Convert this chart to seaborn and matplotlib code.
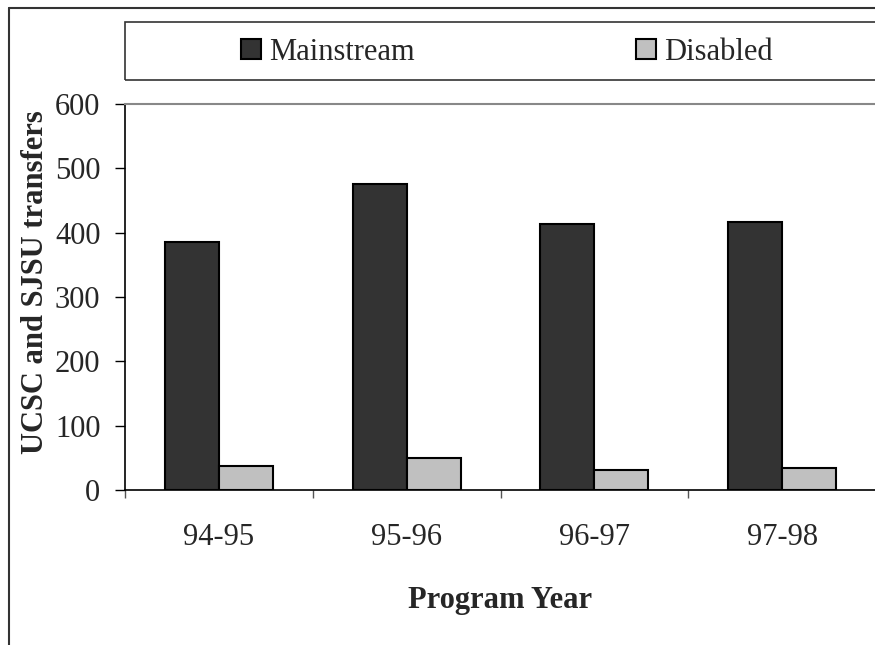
import matplotlib
matplotlib.use("Agg")
import matplotlib.pyplot as plt
import seaborn as sns
import pandas as pd
from matplotlib.patches import Rectangle
from matplotlib.lines import Line2D

years = ["94-95", "95-96", "96-97", "97-98"]
mainstream = [386, 476, 414, 417]
disabled = [37, 50, 31, 34]
series = ["Mainstream", "Disabled"]
colors = ["#333333", "#c0c0c0"]
yticks = [0, 100, 200, 300, 400, 500, 600]

df = pd.DataFrame({
    "year": years * 2,
    "group": [series[0]] * len(years) + [series[1]] * len(years),
    "value": mainstream + disabled,
})

sns.set_style("ticks")
plt.rcParams["font.family"] = ["Liberation Serif", "DejaVu Serif"]

W, H = 875, 645
fig = plt.figure(figsize=(W / 100, H / 100), dpi=100)
ax = fig.add_axes([125 / W, 155 / H, 751 / W, 386 / H])

sns.barplot(data=df, x="year", y="value", hue="group", hue_order=series,
            palette=dict(zip(series, colors)), width=0.575, saturation=1,
            edgecolor="black", linewidth=1.5, ax=ax)

ax.set_ylim(0, 600)
ax.set_xlim(-0.5, 3.5)
ax.set_yticks(yticks)
ax.set_yticklabels([str(v) for v in yticks])
ax.set_xticks([-0.5, 0.5, 1.5, 2.5, 3.5], minor=True)

ax.tick_params(axis="y", which="major", direction="out", length=7.2, width=1,
               color="black", labelsize=22, pad=10.5)
ax.tick_params(axis="x", which="major", length=0, labelsize=22, pad=24)
ax.tick_params(axis="x", which="minor", direction="out", length=6, width=1,
               color="#555555")

for s in ["left", "bottom"]:
    ax.spines[s].set_color("black")
    ax.spines[s].set_linewidth(1.2)
ax.spines["top"].set_visible(True)
ax.spines["top"].set_color("#888888")
ax.spines["top"].set_linewidth(1.5)
ax.spines["right"].set_visible(False)

ax.set_ylabel("UCSC and SJSU transfers", fontsize=22, fontweight="bold")
ax.yaxis.set_label_coords(-0.1, 0.539)
ax.set_xlabel("Program Year", fontsize=22, fontweight="bold", labelpad=24)

handles, labels = ax.get_legend_handles_labels()
ax.get_legend().remove()
fig.legend(handles, labels, loc="center left",
           bbox_to_anchor=(241 / W, 1 - 52 / H), bbox_transform=fig.transFigure,
           ncol=2, frameon=False, fontsize=22, handlelength=0.65,
           handleheight=0.65, handletextpad=0.26, columnspacing=7.26,
           borderpad=0, borderaxespad=0)

fig.add_artist(Rectangle((125 / W, 1 - 80 / H), (W - 125) / W + 0.01, 58 / H,
                         transform=fig.transFigure, fill=False,
                         edgecolor="#333333", linewidth=1.2))
fig.add_artist(Line2D([9 / W, 9 / W], [-0.01, 1 - 8 / H],
                      transform=fig.transFigure, color="#333333", linewidth=1.5))
fig.add_artist(Line2D([9 / W, 1.01], [1 - 8 / H, 1 - 8 / H],
                      transform=fig.transFigure, color="#333333", linewidth=1.5))

fig.savefig("out.png", dpi=100)
